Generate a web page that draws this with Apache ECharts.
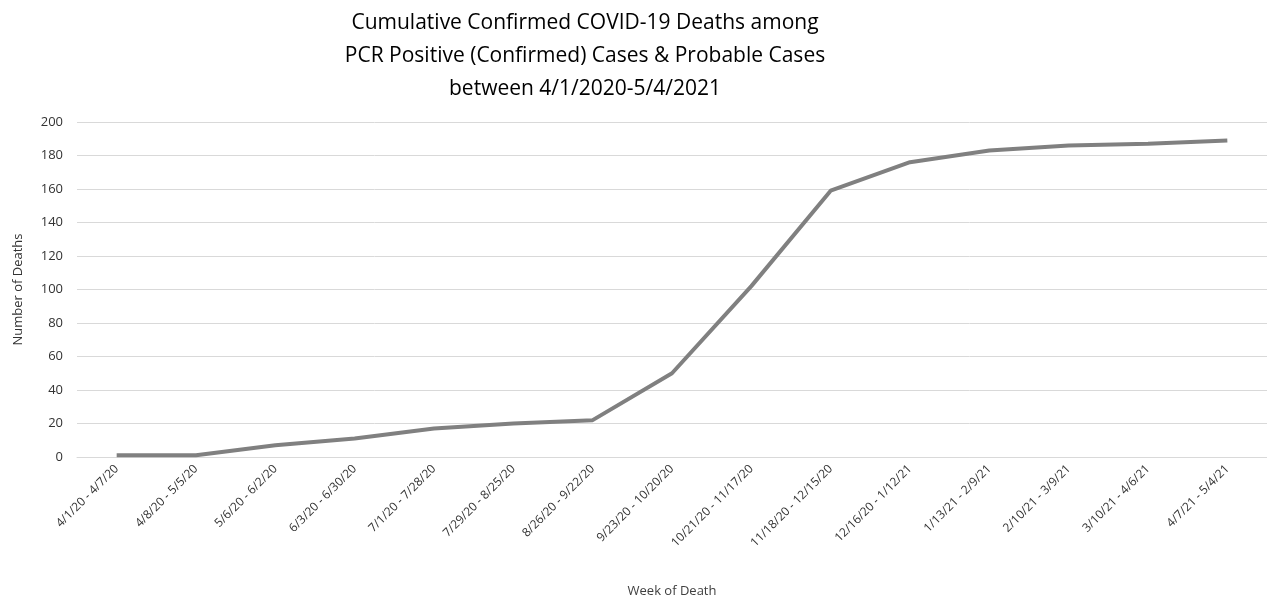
<!DOCTYPE html>
<html>
<head>
<meta charset="utf-8">
<script src="https://cdn.jsdelivr.net/npm/echarts@6/dist/echarts.min.js"></script>
<style>html,body{margin:0;padding:0;background:#fff}#chart{width:1267px;height:603px}</style>
</head>
<body>
<div id="chart"></div>
<script>
const weeks = ['4/1/20 - 4/7/20', '4/8/20 - 5/5/20', '5/6/20 - 6/2/20', '6/3/20 - 6/30/20', '7/1/20 - 7/28/20',
  '7/29/20 - 8/25/20', '8/26/20 - 9/22/20', '9/23/20 - 10/20/20', '10/21/20 - 11/17/20', '11/18/20 - 12/15/20',
  '12/16/20 - 1/12/21', '1/13/21 - 2/9/21', '2/10/21 - 3/9/21', '3/10/21 - 4/6/21', '4/7/21 - 5/4/21'];
const deaths = [1, 1, 7, 11, 17, 20, 22, 50, 102, 159, 176, 183, 186, 187, 189];

const chart = echarts.init(document.getElementById('chart'));
chart.setOption({
  animation: false,
  title: {
    text: 'Cumulative Confirmed COVID-19 Deaths among\nPCR Positive (Confirmed) Cases & Probable Cases\nbetween 4/1/2020-5/4/2021',
    left: 580, top: 2, textAlign: 'center',
    textStyle: { fontFamily: 'Open Sans', fontSize: 21, fontWeight: 'normal', color: '#000', lineHeight: 33 }
  },
  grid: { left: 77, right: 0, top: 122, bottom: 145 },
  xAxis: {
    type: 'category', data: weeks, boundaryGap: true,
    name: 'Week of Death', nameLocation: 'middle', nameGap: 128,
    nameTextStyle: { fontFamily: 'Open Sans', fontSize: 13, color: '#404040' },
    axisLine: { lineStyle: { color: '#d9d9d9' } }, axisTick: { show: false },
    axisLabel: { rotate: 45, interval: 0, fontFamily: 'Open Sans', fontSize: 12, color: '#333', margin: 10 }
  },
  yAxis: {
    type: 'value', min: 0, max: 200, interval: 20,
    name: 'Number of Deaths', nameLocation: 'middle', nameGap: 52,
    nameTextStyle: { fontFamily: 'Open Sans', fontSize: 13, color: '#333' },
    axisLabel: { fontFamily: 'Open Sans', fontSize: 13, color: '#333', margin: 14 },
    splitLine: { lineStyle: { color: '#d9d9d9' } }
  },
  series: [{
    type: 'line', data: deaths, showSymbol: false,
    lineStyle: { color: '#808080', width: 4 }
  }]
});
</script>
</body>
</html>
